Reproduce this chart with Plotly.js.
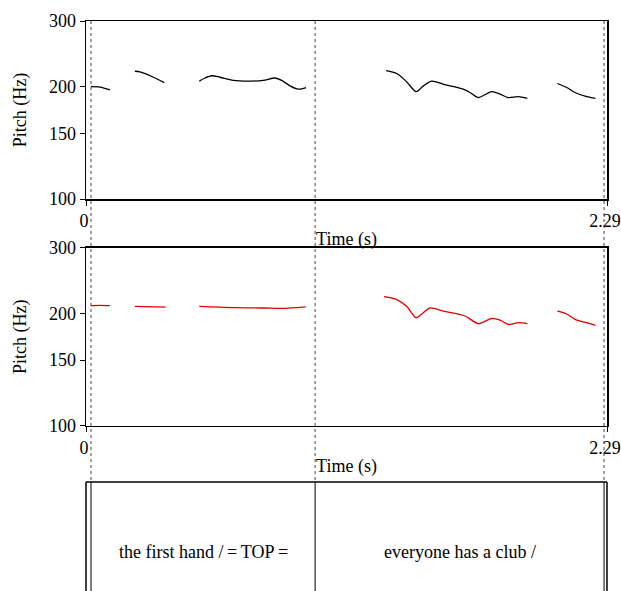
<!DOCTYPE html>
<html>
<head>
<meta charset="utf-8">
<script src="https://cdn.plot.ly/plotly-3.0.1.min.js"></script>
<style>html,body{margin:0;padding:0;background:#fff;}#chart{width:621px;height:591px;}</style>
</head>
<body>
<div id="chart"></div>
<script>
// Original pitch contour (Hz), segments separated by null
const timeOrig = [0.022, 0.062, 0.105, null,
  0.215, 0.237, 0.296, 0.344, null,
  0.498, 0.523, 0.553, 0.589, 0.647, 0.721, 0.779, 0.831, 0.860, 0.897, 0.933, 0.967, null,
  1.319, 1.366, 1.410, 1.451, 1.483, 1.520, 1.571, 1.658, 1.688, 1.724, 1.783, 1.820, 1.856, 1.900, 1.940, null,
  2.072, 2.113, 2.149, 2.201, 2.239];
const pitchOrig = [200, 199.5, 196, null,
  220, 219, 212, 205, null,
  207, 211, 214, 212, 208, 207, 208, 211, 208, 201, 197, 199, null,
  221, 217, 206, 194, 201, 207, 203, 197, 193, 187, 194, 191, 187, 188, 186, null,
  204, 199, 193, 188, 186];

// Resynthesised pitch contour (Hz)
const timeResyn = [0.022, 0.062, 0.105, null,
  0.215, 0.350, null,
  0.498, 0.647, 0.779, 0.860, 0.965, null,
  1.310, 1.366, 1.410, 1.451, 1.476, 1.512, 1.571, 1.666, 1.724, 1.783, 1.820, 1.856, 1.900, 1.940, null,
  2.072, 2.113, 2.149, 2.201, 2.239];
const pitchResyn = [210, 210.5, 210, null,
  209, 208, null,
  209, 207.5, 207, 206.5, 208.5, null,
  222, 218, 209, 195, 199.5, 207, 203, 197, 188, 194, 192, 187, 189, 188, null,
  203, 199.5, 193, 189, 186];

// Text grid
const boundaries = [0.022, 1.007, 2.277];
const intervalLabels = ["the first hand /\u2009=\u2009TOP\u2009=", "everyone has a club /"];

const xTickVals = [0, 2.29];
const xTickText = ["0", "2.29"];
const yTickVals = [100, 150, 200, 300];
const yTickText = ["100", "150", "200", "300"];
const tMax = 2.29;

const font = {family: "Liberation Serif, Times New Roman, serif", size: 18, color: "#000"};

const gridTop = 0.1912;

const traces = [
  {x: timeOrig, y: pitchOrig, xaxis: "x", yaxis: "y", mode: "lines",
   line: {color: "#000", width: 1.3, shape: "spline", smoothing: 0.8}, connectgaps: false, hoverinfo: "skip"},
  {x: timeResyn, y: pitchResyn, xaxis: "x2", yaxis: "y2", mode: "lines",
   line: {color: "#e00000", width: 1.3, shape: "spline", smoothing: 0.8}, connectgaps: false, hoverinfo: "skip"}
];

function xAx(anchor) {
  return {
    anchor: anchor, domain: [0, 1], range: [0, tMax],
    tickmode: "array", tickvals: xTickVals, ticktext: xTickText,
    ticks: "outside", ticklen: 5, tickwidth: 1, tickcolor: "#000",
    ticklabeloverflow: "allow", ticklabelshift: -2,
    showline: true, mirror: true, linecolor: "#000", linewidth: 1.5,
    showgrid: false, zeroline: false, tickfont: font,
    title: {text: "Time (s)", font: font, standoff: 2}
  };
}
function yAx(anchor, dom) {
  return {
    anchor: anchor, domain: dom, type: "log", range: [2, Math.log10(300)],
    tickmode: "array", tickvals: yTickVals, ticktext: yTickText,
    ticks: "outside", ticklen: 5, tickwidth: 1, tickcolor: "#000",
    ticklabeloverflow: "allow",
    showline: true, mirror: true, linecolor: "#000", linewidth: 1.5,
    showgrid: false, zeroline: false, tickfont: font,
    title: {text: "Pitch (Hz)", font: font, standoff: 17}
  };
}

const shapes = [];
boundaries.forEach(b => {
  shapes.push({type: "line", xref: "x", yref: "paper", x0: b, x1: b, y0: 1, y1: gridTop,
    line: {color: "#444", width: 1, dash: "dot"}, layer: "above"});
  shapes.push({type: "line", xref: "x", yref: "paper", x0: b, x1: b, y0: gridTop, y1: -0.1,
    line: {color: "#000", width: 1}, layer: "above"});
});
// text grid box
shapes.push({type: "line", xref: "paper", yref: "paper", x0: 0, x1: 1, y0: gridTop, y1: gridTop, line: {color: "#000", width: 1.5}});
shapes.push({type: "line", xref: "paper", yref: "paper", x0: 0, x1: 0, y0: gridTop, y1: -0.1, line: {color: "#000", width: 1.5}});
shapes.push({type: "line", xref: "paper", yref: "paper", x0: 1, x1: 1, y0: gridTop, y1: -0.1, line: {color: "#000", width: 1.5}});

const annotations = intervalLabels.map((lab, i) => ({
  xref: "x", yref: "paper", x: (boundaries[i] + boundaries[i + 1]) / 2, y: 0.0684,
  text: lab, showarrow: false, font: font, xanchor: "center", yanchor: "middle"
}));

const layout = {
  width: 621, height: 591,
  margin: {l: 86, r: 14, t: 21, b: 0, pad: 0},
  paper_bgcolor: "#fff", plot_bgcolor: "#fff",
  showlegend: false, font: font,
  xaxis: xAx("y"), yaxis: yAx("x", [0.6877, 1]),
  xaxis2: xAx("y2"), yaxis2: yAx("x2", [0.2900, 0.6018]),
  shapes: shapes, annotations: annotations
};

Plotly.newPlot("chart", traces, layout, {staticPlot: true, displayModeBar: false});
</script>
</body>
</html>
